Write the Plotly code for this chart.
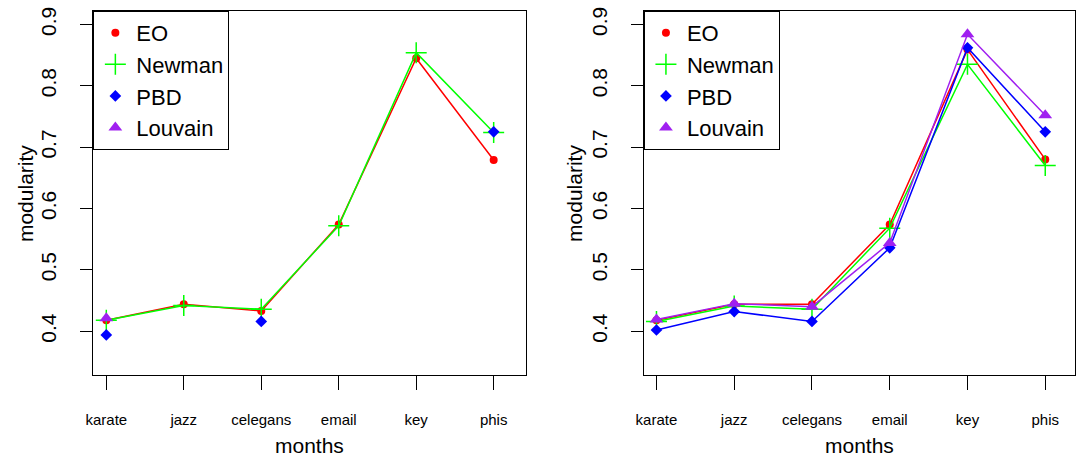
import plotly.graph_objects as go

W, H = 1078, 458

datasets = ["karate", "jazz", "celegans", "email", "key", "phis"]
xpos = [1, 2, 3, 4, 5, 6]

# left panel
eo_l = [0.418, 0.444, 0.433, 0.574, 0.845, 0.679]
newman_l = [0.418, 0.442, 0.436, 0.572, 0.854, 0.724]
pbd_l = [0.394, None, 0.416, None, None, 0.725]
louvain_l = [0.421, None, None, None, None, None]

# right panel
eo_r = [0.418, 0.444, 0.444, 0.574, 0.859, 0.680]
newman_r = [0.416, 0.441, 0.436, 0.568, 0.835, 0.670]
pbd_r = [0.402, 0.432, 0.416, 0.536, 0.862, 0.725]
louvain_r = [0.419, 0.445, 0.440, 0.544, 0.884, 0.752]

ytick_vals = [0.4, 0.5, 0.6, 0.7, 0.8, 0.9]

FONT = "Liberation Sans"

series_style = [
    ("EO", "#FF0000", dict(symbol="circle", size=8)),
    ("Newman", "#00FF00", dict(symbol="cross-thin", size=15, line=dict(width=1.5, color="#00FF00"))),
    ("PBD", "#0000FF", dict(symbol="diamond", size=9)),
    ("Louvain", "#A020F0", dict(symbol="triangle-up", size=12)),
]

fig = go.Figure()

panels = [
    ("x", "y", "legend", [eo_l, newman_l, pbd_l, louvain_l]),
    ("x2", "y2", "legend2", [eo_r, newman_r, pbd_r, louvain_r]),
]
for xa, ya, leg, values in panels:
    for (name, color, mk), vals in zip(series_style, values):
        # connecting segments
        fig.add_trace(go.Scatter(
            x=xpos, y=vals, name=name, mode="lines",
            line=dict(color=color, width=1.5),
            xaxis=xa, yaxis=ya, legend=leg, showlegend=False,
        ))
        # point symbols (also used as the legend key)
        fig.add_trace(go.Scatter(
            x=xpos, y=vals, name=name, mode="markers",
            marker=dict(color=color, **mk),
            xaxis=xa, yaxis=ya, legend=leg,
        ))

def px_x(p):
    return p / W

def px_y(p):
    return 1 - p / H

box_top, box_bot = 7, 374.7
left_box = (86, 521.7)
right_box = (640.7, 1075)

xaxis_common = dict(
    tickmode="array", tickvals=xpos, ticktext=datasets,
    ticks="outside", ticklen=14, tickwidth=1, tickcolor="black",
    showline=True, linecolor="black", linewidth=1, mirror=True,
    showgrid=False, zeroline=False,
    tickfont=dict(family=FONT, size=15, color="black"),
    ticklabelstandoff=17,
)
yaxis_common = dict(
    tickmode="array", tickvals=ytick_vals, ticktext=[f"{v:.1f}" for v in ytick_vals],
    ticks="outside", ticklen=12, tickwidth=1, tickcolor="black",
    showline=True, linecolor="black", linewidth=1, mirror=True,
    showgrid=False, zeroline=False, tickangle=-90,
    tickfont=dict(family=FONT, size=21, color="black"),
    range=[0.328, 0.922], domain=[px_y(box_bot), px_y(box_top)],
    ticklabelstandoff=16,
)

legend_common = dict(
    bordercolor="black", borderwidth=1, bgcolor="white",
    font=dict(family=FONT, size=22, color="black"),
    xanchor="left", yanchor="top", y=px_y(box_top),
    tracegroupgap=0, itemwidth=32,
)

fig.update_layout(
    width=W, height=H,
    margin=dict(l=0, r=0, t=0, b=0),
    paper_bgcolor="white", plot_bgcolor="white",
    font=dict(family=FONT, color="black"),
    xaxis=dict(domain=[px_x(left_box[0]), px_x(left_box[1])], range=[0.833, 6.415], anchor="y", **xaxis_common),
    yaxis=dict(anchor="x", **yaxis_common),
    xaxis2=dict(domain=[px_x(right_box[0]), px_x(right_box[1])], range=[0.839, 6.383], anchor="y2", **xaxis_common),
    yaxis2=dict(anchor="x2", **yaxis_common),
    legend=dict(x=px_x(left_box[0]), **legend_common),
    legend2=dict(x=px_x(right_box[0]), **legend_common),
)

# axis titles
for cx, lx in [((left_box[0] + left_box[1]) / 2, 17), ((right_box[0] + right_box[1]) / 2, 570)]:
    fig.add_annotation(text="months", x=px_x(cx), y=px_y(445), xref="paper", yref="paper",
                       showarrow=False, xanchor="center", yanchor="middle",
                       font=dict(family=FONT, size=21, color="black"))
    fig.add_annotation(text="modularity", x=px_x(lx), y=px_y((box_top + box_bot) / 2),
                       xref="paper", yref="paper", textangle=-90,
                       showarrow=False, xanchor="center", yanchor="middle",
                       font=dict(family=FONT, size=21, color="black"))

fig.write_html("out.html")
